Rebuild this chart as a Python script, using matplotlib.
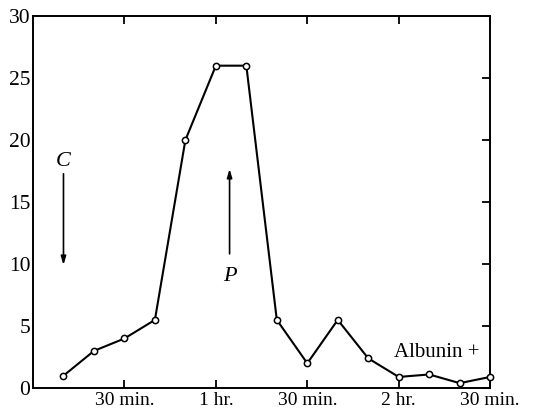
import numpy as np
import matplotlib
matplotlib.use("Agg")
import matplotlib.pyplot as plt

plt.rcParams['font.family'] = ['Liberation Serif', 'DejaVu Serif']

# time in minutes
minutes = [10, 20, 30, 40, 50, 60, 70, 80, 90, 100, 110, 120, 130, 140, 150]
values = [1, 3, 4, 5.5, 20, 26, 26, 5.5, 2, 5.5, 2.4, 0.9, 1.1, 0.4, 0.9]

xtick_pos = [30, 60, 90, 120, 150]
xtick_labels = ["30 min.", "1 hr.", "30 min.", "2 hr.", "30 min."]
ytick_pos = [0, 5, 10, 15, 20, 25, 30]

fig = plt.figure(figsize=(5.41, 4.12), dpi=100)
ax = fig.add_axes([0.061, 0.058, 0.845, 0.903])

ax.plot(minutes, values, color='black', lw=1.5, marker='o', ms=4.5,
        mfc='white', mec='black', mew=1.1, clip_on=False, zorder=3)

ax.set_xlim(0, 150)
ax.set_ylim(0, 30)
ax.set_xticks(xtick_pos)
ax.set_xticklabels(xtick_labels, fontsize=14)
ax.set_yticks(ytick_pos)
ax.set_yticklabels([str(v) for v in ytick_pos], fontsize=15.5)

ax.tick_params(axis='x', direction='in', top=True, bottom=True, length=6,
               width=1.3, pad=3)
ax.tick_params(axis='y', direction='in', left=False, right=True, length=6,
               width=1.3, pad=2)
for s in ax.spines.values():
    s.set_linewidth(1.4)

# annotations
arrow = dict(arrowstyle='-|>,head_length=0.5,head_width=0.15',
             color='black', lw=1.2)
ax.text(10, 18.3, "C", fontsize=16, style='italic', ha='center', va='center')
ax.annotate("", xy=(10, 9.7), xytext=(10, 17.5), arrowprops=arrow)
ax.text(64.5, 9.0, "P", fontsize=16, style='italic', ha='center', va='center')
ax.annotate("", xy=(64.5, 17.9), xytext=(64.5, 10.6), arrowprops=arrow)
ax.text(132.5, 2.9, "Albunin +", fontsize=15, ha='center', va='center')

fig.savefig("out.png", dpi=100)
